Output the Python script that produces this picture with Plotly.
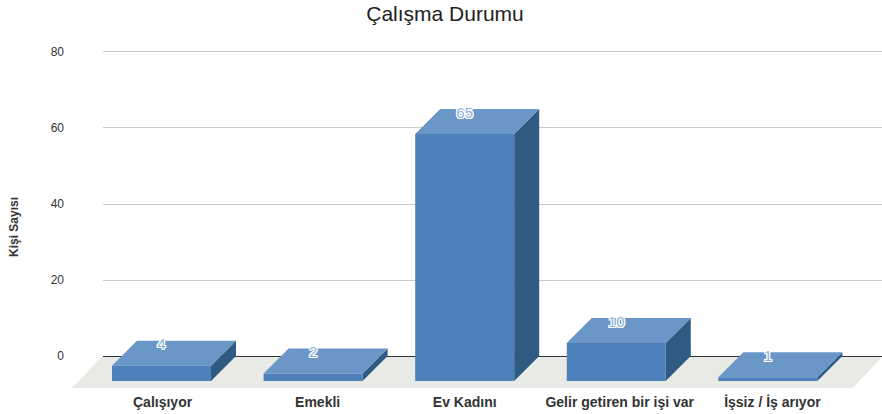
import plotly.graph_objects as go

categories = ["Çalışıyor", "Emekli", "Ev Kadını", "Gelir getiren bir işi var", "İşsiz / İş arıyor"]
values = [4, 2, 65, 10, 1]
y_ticks = [0, 20, 40, 60, 80]

# Oblique projection constants, in axis units
BAR_W = 0.653
DX = 0.165
DY = 6.58
X_RANGE = [-0.386, 4.753]
Y_RANGE = [-8.42, 81.05]
FLOOR_L, FLOOR_R = -0.59, 4.56
LABEL_DROP = 1.3
TICK_NUDGE = [0.007, 0.03, 0.0, 0.023, 0.03]

FONT = "Liberation Sans, Arial, sans-serif"

def faces(i, v):
    x0, x1 = i - BAR_W / 2, i + BAR_W / 2
    front = [(x0, -DY), (x1, -DY), (x1, v - DY), (x0, v - DY), (x0, -DY)]
    top = [(x0, v - DY), (x1, v - DY), (x1 + DX, v), (x0 + DX, v), (x0, v - DY)]
    side = [(x1, -DY), (x1 + DX, 0), (x1 + DX, v), (x1, v - DY), (x1, -DY)]
    return front, top, side

def px(x):
    return (x - X_RANGE[0]) / (X_RANGE[1] - X_RANGE[0])

fig = go.Figure()

floor_path = (f"M {px(FLOOR_L)} {Y_RANGE[0]} L {px(FLOOR_R)} {Y_RANGE[0]} "
              f"L {px(FLOOR_R + 0.2)} 0 L {px(FLOOR_L + 0.2)} 0 Z")
fig.add_shape(type="path", path=floor_path, xref="paper", yref="y",
              fillcolor="#e8eae6", line=dict(width=0), layer="below")

for i, v in enumerate(values):
    front, top, side = faces(i, v)
    for poly, color in ((side, "#2f5a82"), (top, "#6a96c8"), (front, "#4e80bc")):
        fig.add_trace(go.Scatter(
            x=[p[0] for p in poly], y=[p[1] for p in poly],
            mode="lines", fill="toself", fillcolor=color,
            line=dict(width=0), hoverinfo="skip", showlegend=False,
        ))

fig.add_trace(go.Scatter(
    x=list(range(len(values))), y=[v - LABEL_DROP for v in values],
    mode="text", text=[str(v) for v in values], textposition="middle center",
    textfont=dict(family=FONT, size=15, color="#8fb2da",
                  shadow="1px 0 0 #fff, -1px 0 0 #fff, 0 1px 0 #fff, 0 -1px 0 #fff, "
                         "1px 1px 0 #fff, -1px -1px 0 #fff, 1px -1px 0 #fff, -1px 1px 0 #fff"),
    hoverinfo="skip", showlegend=False, cliponaxis=False,
))

fig.update_layout(
    width=882, height=414,
    margin=dict(l=103, r=0, t=48, b=26),
    paper_bgcolor="white", plot_bgcolor="white",
    font=dict(family=FONT, color="#222222"),
    title=dict(text="Çalışma Durumu", x=445 / 882, xanchor="center",
               y=1 - 14 / 414, yanchor="middle", font=dict(size=21, color="#222222")),
    showlegend=False,
    xaxis=dict(range=X_RANGE, tickmode="array",
               tickvals=[i + n for i, n in enumerate(TICK_NUDGE)],
               ticktext=categories, showgrid=False, zeroline=False, showline=False,
               ticks="", ticklabelstandoff=4,
               tickfont=dict(size=14, color="#333333", weight="bold")),
    yaxis=dict(range=Y_RANGE, tickmode="array", tickvals=y_ticks, showgrid=True,
               gridcolor="#cccccc", gridwidth=1, zeroline=True, zerolinecolor="#333333",
               zerolinewidth=1, showline=False, ticks="", ticklabelstandoff=38,
               tickfont=dict(size=12, color="#333333")),
    annotations=[dict(text="Kişi Sayısı", xref="paper", yref="paper",
                      x=-89 / 779, y=(388 - 227) / 340, textangle=-90, showarrow=False,
                      xanchor="center", yanchor="middle",
                      font=dict(size=12, color="#333333", weight="bold"))],
)

fig.write_html("out.html", config={"displayModeBar": False},
               post_script="document.body.style.margin='0';")
